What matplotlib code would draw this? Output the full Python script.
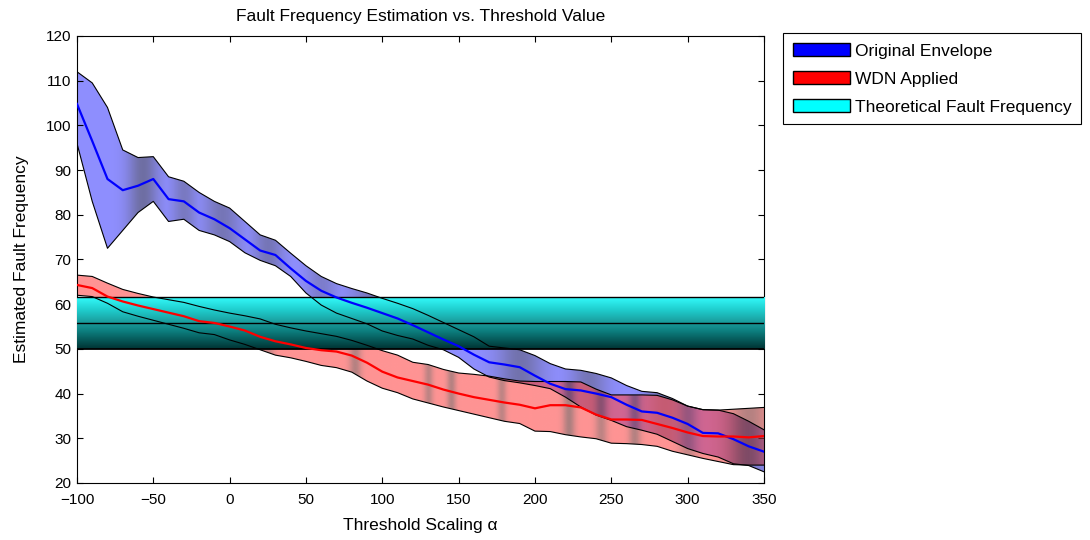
import numpy as np
import matplotlib
matplotlib.use('Agg')
import matplotlib.pyplot as plt
from matplotlib.patches import Polygon, Patch
from matplotlib.colors import LinearSegmentedColormap

plt.rcParams['font.family'] = ['Liberation Sans', 'DejaVu Sans']
plt.rcParams['font.size'] = 12

# threshold scaling values
alpha = np.arange(-100, 351, 10)

orig_mean = [104.8, 96.5, 88, 85.5, 86.5, 88, 83.5, 83, 80.5, 79, 77, 74.5, 72, 71, 68, 65.2,
             63, 61.5, 60.3, 59.2, 58, 56.8, 55.3, 53.7, 52.1, 50.6, 48.7, 47, 46.5, 45.9, 44,
             42.2, 41, 40.7, 40, 39.2, 37.5, 36, 35.7, 34.6, 33.2, 31.2, 31.1, 29.8, 28.2, 27]
orig_upper = [112, 109.5, 104, 94.5, 92.8, 93, 88.5, 87.5, 85, 83, 81.5, 78.5, 75.5, 74.3, 71.4,
              68.6, 66.2, 64.6, 63.5, 62.5, 61.3, 60.2, 59, 57.5, 55.9, 54.3, 52.7, 50.6, 50.2,
              49.8, 48.5, 46.7, 45.5, 45.2, 44.5, 43.5, 41.8, 40.5, 40.2, 38.9, 37.2, 36.4, 36.3,
              35.5, 33.8, 31.9]
orig_lower = [96, 83, 72.5, 76.5, 80.5, 83, 78.5, 79, 76.5, 75.5, 74, 71.5, 69.8, 68.6, 66.2,
              62.5, 59.8, 58, 56.8, 55.6, 54, 53, 52.2, 50.8, 49.8, 48.1, 45.5, 43.7, 42.9, 42.4,
              41.8, 41.1, 39.2, 37, 35.2, 34, 32.6, 31.8, 30.9, 29.3, 27.7, 26.6, 25.8, 24.3,
              23.9, 22.5]

wdn_mean = [64.3, 63.6, 61.7, 60.6, 59.7, 58.9, 58.1, 57.3, 56.2, 55.8, 55, 54.1, 52.7, 51.7, 51,
            50.2, 49.7, 49.4, 48.5, 46.9, 44.9, 43.6, 42.8, 42, 40.9, 40, 39.2, 38.6, 38, 37.5,
            36.7, 37.4, 37.4, 36.9, 35.3, 34.2, 34.2, 34.1, 33.2, 32.3, 31.3, 30.5, 30.4, 30.4,
            30.2, 30.5]
wdn_upper = [66.5, 66.2, 64.7, 63.3, 62.4, 61.6, 61, 60.4, 59.5, 58.7, 58, 57.4, 56.7, 55.5, 54.7,
             54, 53.4, 52.8, 51.9, 50.8, 49.6, 48.6, 47, 46.5, 45.4, 44.6, 44.3, 43.9, 43.3, 42.8,
             42.7, 42.7, 42.7, 42.6, 41, 39.7, 39.7, 39.7, 39.6, 38.6, 37.2, 36.4, 36.3, 36.5,
             36.7, 36.9]
wdn_lower = [62, 61.7, 60.2, 58.3, 57.3, 56.4, 55.5, 54.6, 53.6, 53.2, 52, 51, 49.8, 48.6, 48,
             47.2, 46.3, 45.8, 44.8, 42.8, 41.2, 40.2, 38.8, 37.9, 37, 36.2, 35.4, 34.6, 33.8,
             33.3, 31.6, 31.5, 30.8, 30.3, 29.9, 28.9, 28.8, 28.6, 28.2, 27.1, 26.3, 25.5, 24.8,
             24.1, 24, 24]

theory_low = 50
theory_mid = 55.75
theory_high = 61.5

# darker streaks in the shaded bands (center, width, strength)
blue_streaks = [(-57, 10, 0.9), (-30, 8, 0.6), (-5, 12, 0.7), (25, 10, 0.7), (60, 10, 0.5),
                (95, 15, 0.7), (190, 15, 0.8), (235, 12, 0.7), (285, 12, 0.8), (335, 15, 0.7)]
red_streaks = [(25, 4, 0.6), (82, 4, 0.8), (130, 3, 0.7), (145, 3, 0.8), (178, 3, 0.7),
               (222, 4, 0.9), (243, 4, 0.7), (265, 4, 0.8), (300, 6, 0.6), (340, 12, 0.8)]

xmin, xmax, ymin, ymax = -100, 350, 20, 120

fig = plt.figure(figsize=(10.9, 5.4), dpi=100)
ax = fig.add_axes([0.0706, 0.1056, 0.6303, 0.8278])


def shade(streaks, xs):
    d = np.zeros_like(xs)
    for c, w, s in streaks:
        d = np.maximum(d, s * np.exp(-((xs - c) / w) ** 2))
    return d


def shaded_band(upper, lower, light, dark, streaks, alpha_val, z):
    xs = np.linspace(xmin, xmax, 900)
    d = shade(streaks, xs)[None, :, None]
    rgb = np.array(light)[None, None, :] * (1 - d) + np.array(dark)[None, None, :] * d
    img = np.concatenate([rgb, np.full((1, len(xs), 1), alpha_val)], axis=2)
    img = np.repeat(img, 2, axis=0)
    verts = np.vstack([np.column_stack([alpha, upper]),
                       np.column_stack([alpha[::-1], lower[::-1]])])
    poly = Polygon(verts, closed=True, facecolor='none', edgecolor='none')
    ax.add_patch(poly)
    im = ax.imshow(img, extent=[xmin, xmax, ymin, ymax], aspect='auto', origin='lower',
                   interpolation='bilinear', zorder=z)
    im.set_clip_path(poly)


shaded_band(np.array(orig_upper), np.array(orig_lower), (0.56, 0.56, 1.0), (0.42, 0.42, 0.6),
            blue_streaks, 1.0, 1)
shaded_band(np.array(wdn_upper), np.array(wdn_lower), (1.0, 0.3, 0.3), (0.4, 0.15, 0.15),
            red_streaks, 0.6, 2)

# theoretical band with vertical gradient
cmap = LinearSegmentedColormap.from_list('teal', [(0.0, (0.0, 0.2, 0.2)),
                                                   (0.35, (0.05, 0.5, 0.5)),
                                                   (0.5, (0.1, 0.6, 0.6)),
                                                   (0.75, (0.12, 0.8, 0.8)),
                                                   (1.0, (0.2, 0.98, 0.98))])
grad = np.linspace(0, 1, 200)[:, None]
ax.imshow(grad, extent=[xmin, xmax, theory_low, theory_high], aspect='auto', origin='lower',
          cmap=cmap, interpolation='bilinear', zorder=3)
for yv, lw in [(theory_low, 1.3), (theory_mid, 1.0), (theory_high, 1.0)]:
    ax.axhline(yv, color='black', lw=lw, zorder=3.5)

# band edges
for arr in [orig_upper, orig_lower, wdn_upper, wdn_lower]:
    ax.plot(alpha, arr, color='black', lw=0.8, zorder=4)

ax.plot(alpha, orig_mean, color=(0, 0, 1), lw=1.6, zorder=5)
ax.plot(alpha, wdn_mean, color=(1, 0, 0), lw=1.6, zorder=5)

ax.set_xlim(xmin, xmax)
ax.set_ylim(ymin, ymax)
ax.set_xticks(np.arange(-100, 351, 50))
ax.set_yticks(np.arange(20, 121, 10))
ax.tick_params(direction='in', top=True, right=True, length=4, width=0.8, labelsize=11)
ax.tick_params(axis='x', pad=7)
ax.tick_params(axis='y', pad=4)
for s in ax.spines.values():
    s.set_linewidth(0.8)

ax.set_title('Fault Frequency Estimation vs. Threshold Value', fontsize=12.5, pad=11)
ax.set_xlabel('Threshold Scaling \u03b1', fontsize=12.5, labelpad=8)
ax.set_ylabel('Estimated Fault Frequency', fontsize=12.5, labelpad=12)

handles = [Patch(facecolor=(0, 0, 1), edgecolor='black', label='Original Envelope'),
           Patch(facecolor=(1, 0, 0), edgecolor='black', label='WDN Applied'),
           Patch(facecolor=(0, 1, 1), edgecolor='black', label='Theoretical Fault Frequency')]
leg = ax.legend(handles=handles, loc='upper left', bbox_to_anchor=(1.0277, 1.006),
                borderaxespad=0, fancybox=False, edgecolor='black', framealpha=1,
                handlelength=3.3, handleheight=0.8, labelspacing=0.72, handletextpad=0.3,
                borderpad=0.55, fontsize=12.5)
leg.get_frame().set_linewidth(0.8)

fig.savefig('out.png', dpi=100)
